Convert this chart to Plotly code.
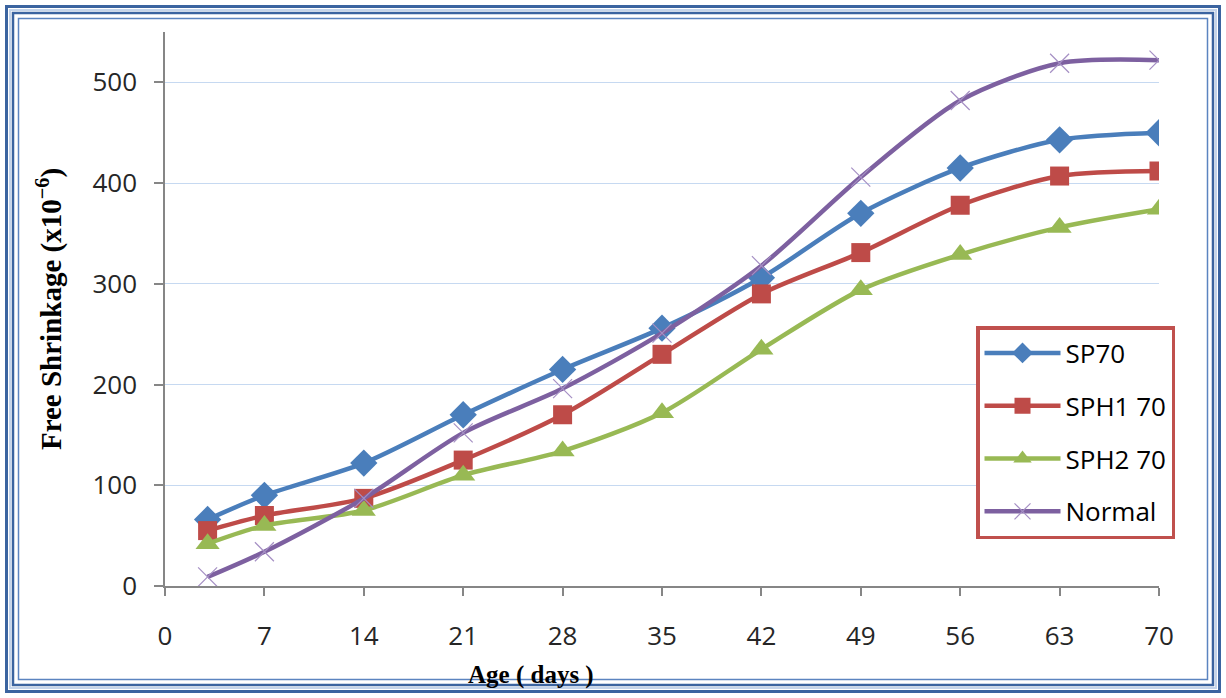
import plotly.graph_objects as go

# Age of specimens (days) and measured free shrinkage (x10^-6)
age_days = [3, 7, 14, 21, 28, 35, 42, 49, 56, 63, 70]
sp70 = [66, 90, 122, 170, 215, 256, 306, 370, 415, 443, 450]
sph1_70 = [55, 70, 87, 125, 170, 230, 290, 331, 378, 407, 412]
sph2_70 = [42, 60, 75, 110, 134, 172, 235, 294, 329, 356, 374]
normal = [9, 34, 87, 152, 196, 251, 318, 406, 482, 519, 522]

x_ticks = [0, 7, 14, 21, 28, 35, 42, 49, 56, 63, 70]
y_ticks = [0, 100, 200, 300, 400, 500]

series = [
    ("SP70", sp70, "#4a7ebb", dict(symbol="diamond", size=21)),
    ("SPH1 70", sph1_70, "#be4b48", dict(symbol="square", size=19)),
    ("SPH2 70", sph2_70, "#98b954", dict(symbol="triangle-up", size=21)),
    ("Normal", normal, "#7d60a0", dict(symbol="x-thin", size=19,
                                        line=dict(width=1.2, color="#a58fc4"))),
]

fig = go.Figure()
for i, (name, vals, color, marker) in enumerate(series):
    m = dict(color=color, **marker)
    if "line" not in m:
        m["line"] = dict(width=0)
    fig.add_trace(go.Scatter(
        x=age_days, y=vals, name=name, mode="lines+markers",
        line=dict(color=color, width=4.5, shape="spline", smoothing=0.8),
        marker=m, legendgroup=f"g{i}",
    ))

# Plot-area geometry (pixels) used to place the frame, legend and x title
W, H = 1226, 698
L, R, T, B = 165, 1159, 32, 586


def fx(px):
    return (px - L) / (R - L)


def fy(py):
    return (B - py) / (B - T)


frame = [
    (6.5, 3.0, "#3b64a0"),
    (10.0, 2.0, "#c4d4ea"),
    (13.0, 2.5, "#3b64a0"),
    (18.5, 1.5, "#5b84c0"),
]
shapes = []
for inset, width, color in frame:
    shapes.append(dict(
        type="rect", xref="paper", yref="paper", layer="above",
        x0=fx(inset), x1=fx(W - inset), y0=fy(H - inset), y1=fy(inset),
        line=dict(color=color, width=width), fillcolor="rgba(0,0,0,0)",
    ))

sans = "Open Sans, Liberation Sans, sans-serif"
serif = "Liberation Serif, Times New Roman, serif"
tick_font = dict(family=sans, size=26, color="#262626")

fig.update_layout(
    width=W, height=H,
    margin=dict(l=L, r=W - R, t=T, b=H - B),
    paper_bgcolor="white", plot_bgcolor="white",
    shapes=shapes,
    legend=dict(
        x=fx(976), y=fy(326), xanchor="left", yanchor="top",
        bordercolor="#c0504d", borderwidth=3.5, bgcolor="white",
        font=dict(family=sans, size=26, color="#000000"),
        tracegroupgap=16, itemwidth=76,
    ),
    showlegend=True,
    annotations=[dict(
        text="<b>Age ( days )</b>", xref="paper", yref="paper",
        x=fx(531), y=fy(675), xanchor="center", yanchor="middle",
        showarrow=False, font=dict(family=serif, size=25, color="#000000"),
    )],
)

fig.update_xaxes(
    range=[0, 70], tickvals=x_ticks, ticktext=[str(v) for v in x_ticks],
    showline=True, linecolor="#868686", linewidth=1.5,
    ticks="outside", ticklen=8, tickcolor="#868686", tickwidth=1.5,
    showgrid=False, zeroline=False, tickfont=tick_font, ticklabelstandoff=18,
)
fig.update_yaxes(
    range=[0, 550], tickvals=y_ticks, ticktext=[str(v) for v in y_ticks],
    showline=True, linecolor="#868686", linewidth=1.5,
    ticks="outside", ticklen=9, tickcolor="#868686", tickwidth=1.5,
    showgrid=True, gridcolor="#c6d9f1", gridwidth=1, zeroline=False,
    tickfont=tick_font, ticklabelstandoff=12,
    title=dict(text="<b>Free Shrinkage (x10<sup>−6</sup>)</b>",
               font=dict(family=serif, size=29, color="#000000"), standoff=22),
)

fig.write_html("out.html")
